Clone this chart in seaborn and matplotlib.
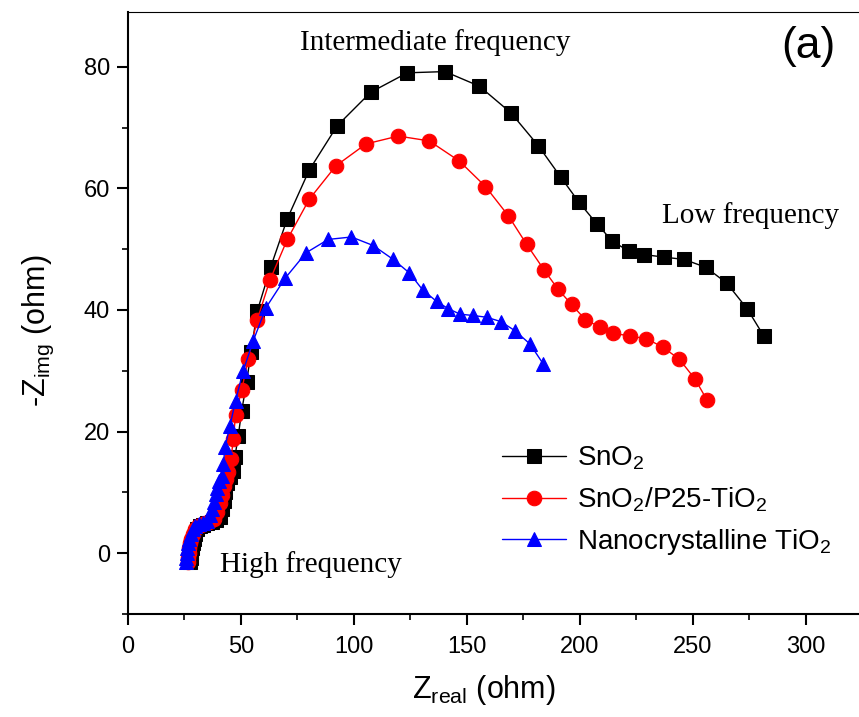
import matplotlib
matplotlib.use("Agg")
import matplotlib.pyplot as plt
from matplotlib.ticker import MultipleLocator
import pandas as pd
import seaborn as sns

# ==========================================
# DATA
# ==========================================
sno2_x = [27.5, 27.7, 27.9, 28.2, 28.6, 29.1, 29.8, 30.7, 31.8, 33.2, 35.0, 37.0, 39.0,
          40.5, 41.5, 42.3, 43.0, 43.8, 45.0, 46.6, 47.3, 48.8, 50.3, 52.5, 54.4,
          57.2, 63.1, 70.5, 80.2, 92.6, 107.4, 123.6, 140.3, 155.5, 169.5, 181.6,
          191.6, 199.6, 207.4, 214.4, 221.5, 228.5, 237.0, 246.2, 255.8, 265.0, 274.0, 281.4]
sno2_y = [-1.5, -0.8, 0.0, 0.8, 1.6, 2.4, 3.2, 3.9, 4.4, 4.7, 4.9, 5.1, 5.4,
          6.0, 7.2, 8.6, 10.0, 11.5, 12.5, 13.5, 15.8, 19.3, 23.4, 28.1, 33.1,
          39.8, 47.0, 55.0, 63.0, 70.3, 75.8, 79.0, 79.2, 76.8, 72.4, 67.0,
          61.8, 57.7, 54.2, 51.3, 49.7, 49.1, 48.7, 48.3, 47.0, 44.4, 40.2, 35.7]

mix_x = [26.5, 26.7, 26.9, 27.2, 27.6, 28.1, 28.8, 29.7, 30.8, 32.2, 34.0, 36.0, 38.0,
         39.5, 40.5, 41.5, 42.5, 43.5, 44.4, 45.6, 46.6, 47.6, 50.3, 53.2,
         57.2, 62.8, 70.5, 80.2, 92.0, 105.3, 119.6, 133.3, 146.6, 158.2, 168.3,
         176.4, 184.1, 190.1, 196.3, 202.4, 208.8, 214.7, 222.0, 229.3, 236.6,
         244.0, 251.0, 256.2]
mix_y = [-1.5, -0.8, 0.0, 0.8, 1.6, 2.4, 3.2, 3.9, 4.4, 4.7, 4.9, 5.1, 5.6,
         6.8, 8.2, 9.6, 11.0, 12.2, 13.3, 15.5, 18.8, 22.7, 26.8, 31.9,
         38.4, 44.9, 51.6, 58.2, 63.7, 67.3, 68.6, 67.8, 64.5, 60.3, 55.5,
         50.8, 46.6, 43.5, 40.9, 38.4, 37.2, 36.2, 35.7, 35.3, 33.9,
         31.9, 28.6, 25.2]

nano_x = [25.5, 25.7, 25.9, 26.2, 26.6, 27.1, 27.8, 28.7, 29.8, 31.2, 33.0, 35.0,
          36.3, 37.2, 38.0, 38.8, 39.6, 40.4, 41.4, 42.2, 42.9, 45.1, 47.6, 51.0,
          55.4, 61.1, 69.5, 78.8, 88.6, 98.9, 108.5, 117.4, 124.5, 130.4, 136.6,
          141.8, 147.0, 152.5, 158.7, 164.9, 171.2, 177.9, 183.8]
nano_y = [-1.5, -0.8, 0.0, 0.8, 1.6, 2.4, 3.2, 3.9, 4.4, 4.8, 5.0, 5.3,
          6.2, 7.3, 8.5, 9.7, 10.8, 11.8, 12.7, 14.6, 17.4, 20.9, 25.1, 30.0,
          34.9, 40.4, 45.2, 49.4, 51.6, 52.0, 50.6, 48.3, 46.1, 43.3, 41.4,
          40.2, 39.3, 39.1, 38.8, 38.1, 36.6, 34.4, 31.1]

series_labels = ['SnO$_2$', 'SnO$_2$/P25-TiO$_2$', 'Nanocrystalline TiO$_2$']
series_colors = ['black', '#ff0000', '#0000ff']
series_markers = ['s', 'o', '^']

x_ticks = [0, 50, 100, 150, 200, 250, 300]
y_ticks = [0, 20, 40, 60, 80]

# ==========================================
# STYLE
# ==========================================
sns.set_style("ticks")
plt.rcParams['font.family'] = ['Liberation Sans', 'DejaVu Sans']
plt.rcParams['mathtext.fontset'] = 'custom'
plt.rcParams['mathtext.rm'] = 'Liberation Sans'
plt.rcParams['mathtext.it'] = 'Liberation Sans'
plt.rcParams['text.color'] = 'black'
plt.rcParams['axes.labelcolor'] = 'black'
plt.rcParams['xtick.color'] = 'black'
plt.rcParams['ytick.color'] = 'black'
plt.rcParams['axes.edgecolor'] = 'black'

df = pd.concat([
    pd.DataFrame({'x': sno2_x, 'y': sno2_y, 'sample': series_labels[0]}),
    pd.DataFrame({'x': mix_x, 'y': mix_y, 'sample': series_labels[1]}),
    pd.DataFrame({'x': nano_x, 'y': nano_y, 'sample': series_labels[2]}),
], ignore_index=True)

fig = plt.figure(figsize=(8.59, 7.17), dpi=100)
ax = fig.add_axes([128 / 859, 1 - 614 / 717, 1 - 128 / 859, (614 - 12) / 717])

for lab, col, mk in zip(series_labels, series_colors, series_markers):
    sub = df[df['sample'] == lab]
    sns.lineplot(data=sub, x='x', y='y', ax=ax, sort=False, estimator=None,
                 color=col, marker=mk, markersize=10 if mk != 'o' else 10.5,
                 markeredgecolor=col, linewidth=1.0, label=lab)

ax.set_xlim(0, 323.5)
ax.set_ylim(-10, 89)
ax.set_xticks(x_ticks)
ax.set_yticks(y_ticks)
ax.xaxis.set_minor_locator(MultipleLocator(25))
ax.yaxis.set_minor_locator(MultipleLocator(10))
ax.tick_params(axis='both', which='major', direction='out', length=8, width=1.5,
               labelsize=17)
ax.tick_params(axis='x', which='major', pad=8)
ax.tick_params(axis='y', which='major', pad=5)
ax.tick_params(axis='both', which='minor', direction='out', length=4.5, width=1.2)
ax.spines['left'].set_linewidth(1.5)
ax.spines['bottom'].set_linewidth(1.5)
ax.spines['top'].set_linewidth(0.8)
ax.spines['right'].set_visible(False)

ax.set_xlabel('Z$_{\\rm real}$ (ohm)', fontsize=22)
ax.set_ylabel('-Z$_{\\rm img}$ (ohm)', fontsize=22)
ax.xaxis.set_label_coords((484 - 128) / 731, -0.098)
ax.yaxis.set_label_coords(-0.098, 0.47)

serif = ['Liberation Serif', 'DejaVu Serif']
ax.text(136, 84.0, 'Intermediate frequency', family=serif, fontsize=21,
        ha='center', va='center')
ax.text(275.5, 55.5, 'Low frequency', family=serif, fontsize=21,
        ha='center', va='center')
ax.text(81, -1.8, 'High frequency', family=serif, fontsize=21,
        ha='center', va='center')
ax.text(301, 83.3, '(a)', fontsize=32, ha='center', va='center')

ax.legend(loc='upper left', bbox_to_anchor=(0.497, 0.30), frameon=False,
          fontsize=20, handlelength=2.3, handletextpad=0.4, labelspacing=0.48,
          borderaxespad=0)

plt.savefig('out.png', dpi=100)
plt.close()
